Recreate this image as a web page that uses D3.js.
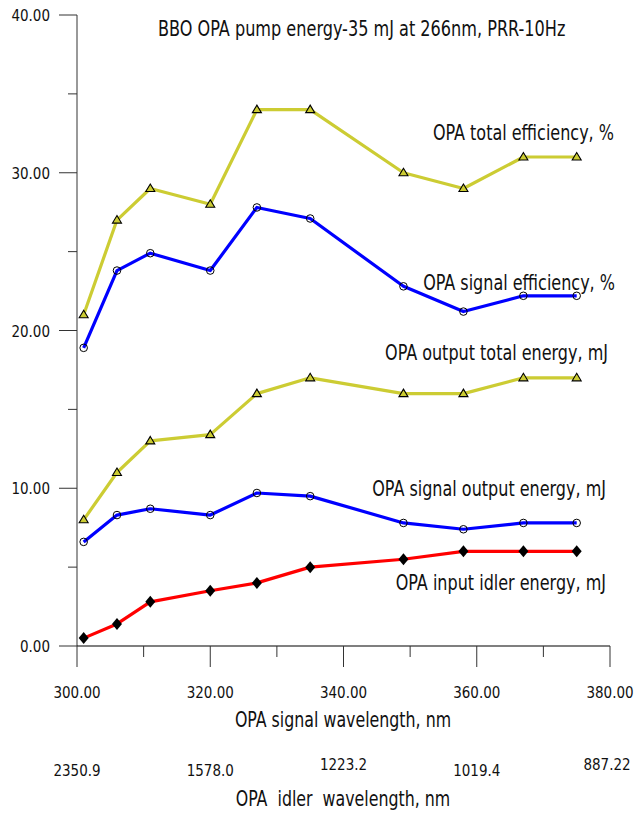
<!DOCTYPE html>
<html>
<head>
<meta charset="utf-8">
<script src="https://cdn.jsdelivr.net/npm/d3@7"></script>
<style>
  body { margin: 0; background: #fff; }
  text { font-family: "DejaVu Sans Condensed", "DejaVu Sans", sans-serif; fill: #111; }
</style>
</head>
<body>
<script>
// signal wavelength, nm
var wavelength = [301, 306, 311, 320, 327, 335, 349, 358, 367, 375];

// series values
var totalEfficiency = [21, 27, 29, 28, 34, 34, 30, 29, 31, 31];
var signalEfficiency = [18.9, 23.8, 24.9, 23.8, 27.8, 27.1, 22.8, 21.2, 22.2, 22.2];
var outputTotalEnergy = [8, 11, 13, 13.4, 16, 17, 16, 16, 17, 17];
var signalOutputEnergy = [6.6, 8.3, 8.7, 8.3, 9.7, 9.5, 7.8, 7.4, 7.8, 7.8];
var idlerEnergy = [0.5, 1.4, 2.8, 3.5, 4.0, 5.0, 5.5, 6.0, 6.0, 6.0];

var seriesNames = [
    "OPA total efficiency, %",
    "OPA signal efficiency, %",
    "OPA output total energy, mJ",
    "OPA signal output energy, mJ",
    "OPA input idler energy, mJ"
];

var xTicks = [300, 320, 340, 360, 380];
var xMinorTicks = [310, 330, 350, 370];
var yTicks = [0, 10, 20, 30, 40];
var yMinorTicks = [5, 15, 25, 35];
var idlerTickLabels = ["2350.9", "1578.0", "1223.2", "1019.4", "887.22"];

var title = "BBO OPA pump energy-35 mJ at 266nm, PRR-10Hz";
var xTitle = "OPA signal wavelength, nm";
var idlerTitle = "OPA  idler  wavelength, nm";

var width = 634, height = 814;

var svg = d3.select("body").append("svg")
    .attr("width", width)
    .attr("height", height);

var xScale = d3.scaleLinear().domain([300, 380]).range([77, 610]);
var yScale = d3.scaleLinear().domain([0, 40]).range([646, 15]);

// the source text is drawn taller than it is wide, so stretch it a bit
function addText(x, y, str, size, anchor, stretch) {
    return svg.append("text")
        .attr("transform", "translate(" + x + "," + y + ") scale(1," + stretch + ")")
        .attr("text-anchor", anchor)
        .attr("xml:space", "preserve")
        .style("font-size", size + "px")
        .text(str);
}

// axes
var yAxis = svg.append("g").attr("transform", "translate(77,0)");
yAxis.append("line")
    .attr("y1", yScale(40)).attr("y2", yScale(0))
    .attr("stroke", "#777").attr("stroke-width", 1.5);
yAxis.selectAll(".major").data(yTicks).enter().append("line")
    .attr("x1", -18).attr("x2", 0)
    .attr("y1", function(d) { return yScale(d); })
    .attr("y2", function(d) { return yScale(d); })
    .attr("stroke", "#333");
yAxis.selectAll(".minor").data(yMinorTicks).enter().append("line")
    .attr("x1", -9).attr("x2", 0)
    .attr("y1", function(d) { return yScale(d); })
    .attr("y2", function(d) { return yScale(d); })
    .attr("stroke", "#333");
yTicks.forEach(function(d) {
    addText(50, yScale(d) + 6, d.toFixed(2), 15, "end", 1.1);
});

var xAxis = svg.append("g").attr("transform", "translate(0,646)");
xAxis.append("line")
    .attr("x1", xScale(300)).attr("x2", xScale(380))
    .attr("stroke", "#000").attr("stroke-width", 1.2);
xAxis.selectAll(".major").data(xTicks).enter().append("line")
    .attr("x1", function(d) { return xScale(d); })
    .attr("x2", function(d) { return xScale(d); })
    .attr("y1", 0).attr("y2", 21)
    .attr("stroke", "#333");
xAxis.selectAll(".minor").data(xMinorTicks).enter().append("line")
    .attr("x1", function(d) { return xScale(d); })
    .attr("x2", function(d) { return xScale(d); })
    .attr("y1", 0).attr("y2", 11)
    .attr("stroke", "#333");
xTicks.forEach(function(d) {
    addText(xScale(d), 698, d.toFixed(2), 15, "middle", 1.1);
});

// idler wavelength labels under the signal ticks
idlerTickLabels.forEach(function(d, i) {
    var dy = (i == 2 || i == 4) ? 770 : 776;
    addText(xScale(xTicks[i]) + (i == 4 ? -3 : 0), dy, d, 15, "middle", 1.1);
});

addText(343, 727, xTitle, 17.6, "middle", 1.2);
addText(343, 806, idlerTitle, 17.6, "middle", 1.2);
addText(158, 36, title, 17.9, "start", 1.2);

// series
var yellow = "#cccc33";
var series = [
    { values: totalEfficiency, color: yellow, marker: "triangle", label: [614, 140] },
    { values: signalEfficiency, color: "#0000ff", marker: "circle", label: [615, 290] },
    { values: outputTotalEnergy, color: yellow, marker: "triangle", label: [608, 360] },
    { values: signalOutputEnergy, color: "#0000ff", marker: "circle", label: [606, 496] },
    { values: idlerEnergy, color: "#ff0000", marker: "diamond", label: [606, 590] }
];

var line = d3.line()
    .x(function(d, i) { return xScale(wavelength[i]); })
    .y(function(d) { return yScale(d); });

series.forEach(function(s, k) {
    svg.append("path")
        .datum(s.values)
        .attr("fill", "none")
        .attr("stroke", s.color)
        .attr("stroke-width", 3.2)
        .attr("stroke-linejoin", "round")
        .attr("d", line);

    var pts = svg.append("g").selectAll("path")
        .data(s.values).enter().append("path")
        .attr("transform", function(d, i) {
            return "translate(" + xScale(wavelength[i]) + "," + yScale(d) + ")";
        });

    if (s.marker == "triangle") {
        pts.attr("d", "M0,-4.5L4.5,3L-4.5,3Z")
            .attr("fill", yellow)
            .attr("stroke", "#000")
            .attr("stroke-width", 1.1);
    } else if (s.marker == "circle") {
        pts.attr("d", d3.symbol().type(d3.symbolCircle).size(45))
            .attr("fill", "none")
            .attr("stroke", "#000")
            .attr("stroke-width", 1);
    } else {
        pts.attr("d", "M0,-6L5,0L0,6L-5,0Z")
            .attr("fill", "#000");
    }

    addText(s.label[0], s.label[1], seriesNames[k], 17.8, "end", 1.2);
});
</script>
</body>
</html>
